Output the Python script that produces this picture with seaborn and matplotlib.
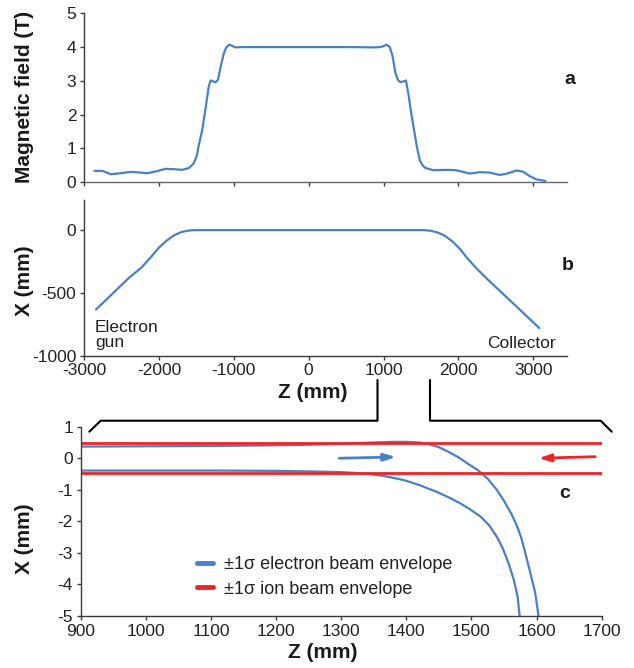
import matplotlib
matplotlib.use("Agg")
import matplotlib.pyplot as plt
import seaborn as sns
import pandas as pd

# ---------------- data ----------------
# Panel a: magnetic field along the axis
field_z = [-2860, -2755, -2644, -2511, -2378, -2245, -2156, -2046, -1912, -1802, -1690,
           -1602, -1582, -1535, -1490, -1472, -1418, -1374, -1336, -1309, -1271, -1244,
           -1211, -1172, -1134, -1101, -1063, -1025, -981, -872, -500, 0, 500, 901, 983,
           1037, 1081, 1119, 1157, 1190, 1223, 1266, 1299, 1332, 1364, 1408, 1446, 1484,
           1520, 1555, 1664, 1855, 1965, 2155, 2282, 2415, 2548, 2638, 2771, 2859, 2948,
           3037, 3161]
field_b = [0.33, 0.33, 0.23, 0.26, 0.30, 0.28, 0.26, 0.31, 0.39, 0.38, 0.36,
           0.41, 0.45, 0.55, 0.80, 1.04, 1.58, 2.22, 2.81, 3.01, 2.98, 2.95,
           3.03, 3.45, 3.80, 3.99, 4.07, 4.04, 3.99, 4.00, 4.00, 4.00, 4.00, 3.99, 4.01,
           4.07, 4.01, 3.75, 3.25, 3.03, 2.96, 2.98, 3.01, 2.61, 2.12, 1.53, 1.04, 0.64,
           0.50, 0.42, 0.35, 0.36, 0.35, 0.25, 0.29, 0.28, 0.21, 0.24, 0.34, 0.31, 0.18,
           0.08, 0.03]

# Panel b: beam trajectory
orbit_z = [-2840, -2600, -2400, -2236, -2100, -2000, -1900, -1800, -1700, -1600, -1520,
           0, 1520, 1620, 1720, 1820, 1920, 2020, 2120, 2250, 2400, 2600, 2800, 3000, 3080]
orbit_x = [-632, -495, -380, -300, -210, -140, -85, -42, -15, -3, 0,
           0, 0, -4, -18, -45, -90, -150, -225, -310, -398, -510, -622, -735, -780]

# Panel c: envelopes (zoom 900-1700 mm)
e_upper_z = [900, 1000, 1100, 1200, 1250, 1300, 1350, 1380, 1400, 1420, 1435, 1450,
             1465, 1480, 1495, 1510, 1525, 1539, 1550, 1561, 1569, 1576, 1582, 1588,
             1593, 1598, 1603]
e_upper_x = [0.37, 0.38, 0.39, 0.41, 0.43, 0.46, 0.50, 0.52, 0.52, 0.50, 0.45, 0.35,
             0.20, 0.03, -0.18, -0.38, -0.65, -1.00, -1.35, -1.75, -2.10, -2.49, -2.95,
             -3.44, -3.85, -4.28, -5.00]
e_lower_z = [900, 1100, 1200, 1260, 1300, 1334, 1365, 1396, 1420, 1446, 1465, 1483,
             1500, 1514, 1527, 1539, 1548, 1557, 1565, 1571, 1574]
e_lower_x = [-0.39, -0.39, -0.40, -0.42, -0.44, -0.48, -0.56, -0.69, -0.85, -1.06, -1.24,
             -1.43, -1.65, -1.85, -2.12, -2.49, -2.85, -3.33, -3.85, -4.40, -5.00]
ion_z = [900, 1700]
ion_upper_x = [0.47, 0.47]
ion_lower_x = [-0.46, -0.46]
electron_arrow = [(1297, 0.00), (1384, 0.04)]   # (from, to)
ion_arrow = [(1690, 0.05), (1603, 0.00)]

a_yticks = [0, 1, 2, 3, 4, 5]
z_ticks = [-3000, -2000, -1000, 0, 1000, 2000, 3000]
b_yticks = [-1000, -500, 0]
c_xticks = [900, 1000, 1100, 1200, 1300, 1400, 1500, 1600, 1700]
c_yticks = [-5, -4, -3, -2, -1, 0, 1]

legend_labels = ["\u00b11\u03c3 electron beam envelope", "\u00b11\u03c3 ion beam envelope"]

# ---------------- style ----------------
sns.set_style("ticks")
plt.rcParams['font.family'] = ['Liberation Sans', 'DejaVu Sans']
plt.rcParams['axes.unicode_minus'] = False
plt.rcParams['axes.edgecolor'] = '#3a3a3a'
plt.rcParams['xtick.color'] = '#3a3a3a'
plt.rcParams['ytick.color'] = '#3a3a3a'
plt.rcParams['xtick.labelcolor'] = '#222222'
plt.rcParams['ytick.labelcolor'] = '#222222'

BLUE = "#4a80c8"
RED = "#ee2424"
W, H = 634, 668
TICK_FS = 12.5
LABEL_FS = 15


def fx(px):
    return px / W


def fy(py):
    return 1 - py / H


fig = plt.figure(figsize=(W / 100, H / 100), dpi=100)

ax_a = fig.add_axes([fx(84), fy(182), fx(567) - fx(84), (182 - 13.3) / H])
ax_b = fig.add_axes([fx(84), fy(355.7), fx(567) - fx(84), (355.7 - 200) / H])
ax_c = fig.add_axes([fx(80.7), fy(616), fx(601.7) - fx(80.7), (616 - 426.7) / H])

for ax in (ax_a, ax_b, ax_c):
    sns.despine(ax=ax)
    ax.tick_params(direction='out', length=3, width=1, pad=2.5, labelsize=TICK_FS)
    for s in ('left', 'bottom'):
        ax.spines[s].set_linewidth(1)

# Panel a
df_a = pd.DataFrame({"z": field_z, "B": field_b})
sns.lineplot(data=df_a, x="z", y="B", ax=ax_a, color=BLUE, linewidth=1.6, sort=False)
ax_a.set_xlim(-3000, 3450)
ax_a.set_ylim(0, 5)
ax_a.set_xticks(z_ticks)
ax_a.set_xticklabels([])
ax_a.set_yticks(a_yticks)
ax_a.set_xlabel("")
ax_a.set_ylabel("")
ax_a.spines['bottom'].set_color('#666666')

# Panel b
df_b = pd.DataFrame({"z": orbit_z, "x": orbit_x})
sns.lineplot(data=df_b, x="z", y="x", ax=ax_b, color=BLUE, linewidth=1.6, sort=False)
ax_b.set_xlim(-3000, 3450)
ax_b.set_ylim(-1000, 240)
ax_b.set_xticks(z_ticks)
ax_b.set_yticks(b_yticks)
ax_b.set_xlabel("")
ax_b.set_ylabel("")

# Panel c
df_cu = pd.DataFrame({"z": e_upper_z, "x": e_upper_x})
df_cl = pd.DataFrame({"z": e_lower_z, "x": e_lower_x})
df_iu = pd.DataFrame({"z": ion_z, "x": ion_upper_x})
df_il = pd.DataFrame({"z": ion_z, "x": ion_lower_x})
sns.lineplot(data=df_cu, x="z", y="x", ax=ax_c, color=BLUE, linewidth=1.6, sort=False,
             label=legend_labels[0])
sns.lineplot(data=df_cl, x="z", y="x", ax=ax_c, color=BLUE, linewidth=1.6, sort=False)
sns.lineplot(data=df_iu, x="z", y="x", ax=ax_c, color=RED, linewidth=2.0, sort=False,
             label=legend_labels[1])
sns.lineplot(data=df_il, x="z", y="x", ax=ax_c, color=RED, linewidth=2.0, sort=False)
ax_c.set_xlim(900, 1700)
ax_c.set_ylim(-5, 1)
ax_c.set_xticks(c_xticks)
ax_c.set_yticks(c_yticks)
ax_c.set_xlabel("")
ax_c.set_ylabel("")

for (start, end), col in ((electron_arrow, BLUE), (ion_arrow, RED)):
    ax_c.annotate("", xy=end, xytext=start,
                  arrowprops=dict(arrowstyle="-|>,head_length=0.7,head_width=0.22",
                                  color=col, lw=2, shrinkA=0, shrinkB=0))

leg = ax_c.legend(loc="center left", bbox_to_anchor=(fx(197), fy(577)),
                  bbox_transform=fig.transFigure, frameon=False, fontsize=13,
                  handlelength=0.9, handletextpad=0.6, labelspacing=0.4,
                  borderpad=0, borderaxespad=0)
for ln in leg.get_lines():
    ln.set_linewidth(3.5)
for t in leg.get_texts():
    t.set_color('#222222')

# Axis titles
fig.text(fx(24.5), fy(97), "Magnetic field (T)", rotation=90, ha='center', va='center',
         fontsize=LABEL_FS, fontweight='bold', color='#1a1a1a')
fig.text(fx(24.5), fy(281), "X (mm)", rotation=90, ha='center', va='center',
         fontsize=LABEL_FS, fontweight='bold', color='#1a1a1a')
fig.text(fx(24), fy(539), "X (mm)", rotation=90, ha='center', va='center',
         fontsize=LABEL_FS, fontweight='bold', color='#1a1a1a')
fig.text(fx(313), fy(393), "Z (mm)", ha='center', va='center',
         fontsize=LABEL_FS, fontweight='bold', color='#1a1a1a')
fig.text(fx(323), fy(653), "Z (mm)", ha='center', va='center',
         fontsize=LABEL_FS, fontweight='bold', color='#1a1a1a')

# Panel letters
for letter, (px, py) in zip("abc", [(570, 80), (568, 266), (565, 493)]):
    fig.text(fx(px), fy(py), letter, ha='center', va='center', fontsize=14,
             fontweight='bold', color='#1a1a1a')

# Annotations on panel b
fig.text(fx(95), fy(331.5), "Electron", ha='left', va='baseline', fontsize=12.5, color='#222222')
fig.text(fx(95), fy(346.5), "gun", ha='left', va='baseline', fontsize=12.5, color='#222222')
fig.text(fx(555.7), fy(348.3), "Collector", ha='right', va='baseline', fontsize=12.5,
         color='#222222')

# Zoom bracket between panels b and c
bracket = [
    [(377.5, 380), (377.5, 420.7), (100.7, 420.7), (89.3, 431.7)],
    [(430, 380), (430, 420.7), (600.7, 420.7), (611.7, 431.7)],
]
for seg in bracket:
    xs = [fx(p[0]) for p in seg]
    ys = [fy(p[1]) for p in seg]
    fig.add_artist(plt.Line2D(xs, ys, transform=fig.transFigure, color='black', lw=1.5))

fig.savefig("out.png", dpi=100)
